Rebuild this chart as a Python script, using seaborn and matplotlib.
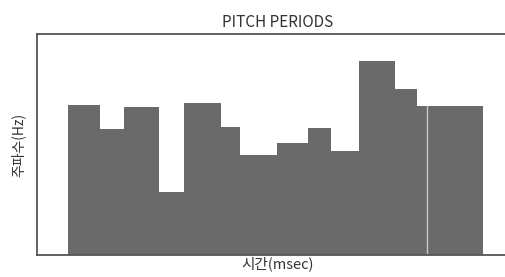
import matplotlib
matplotlib.use('Agg')
import matplotlib.pyplot as plt
import seaborn as sns
import numpy as np

# bin edges along the time axis and bar height per segment
time_edges = [31, 63, 87, 122, 147, 184, 203, 240, 271, 294, 322, 358, 380, 390, 446]
freq = [151, 127, 149, 63, 153, 129, 100, 113, 128, 104, 195, 167, 150, 150]

sns.set_style('white')
plt.rcParams['font.family'] = ['Noto Sans CJK KR', 'DejaVu Sans']

fig = plt.figure(figsize=(5.06, 2.77), dpi=100)
ax = fig.add_axes([37 / 506, 22 / 277, 482 / 506, 221 / 277])

centers = [(a + b) / 2 for a, b in zip(time_edges[:-1], time_edges[1:])]
sns.histplot(x=centers, weights=freq, bins=time_edges, stat='count',
             color='#6a6a6a', alpha=1, linewidth=0, ax=ax)
ax.axvline(time_edges[13], ymax=freq[13] / 222, color='#c8c8c8', lw=1)

ax.set_xlim(0, 482)
ax.set_ylim(0, 222)
ax.set_xticks([])
ax.set_yticks([])
ax.set_title('PITCH PERIODS', fontsize=11, color='#333333', pad=5)
ax.set_xlabel('시간(msec)', fontsize=10.5, color='#333333', labelpad=1)
ax.set_ylabel('주파수(Hz)', fontsize=10, color='#333333', labelpad=8)

for side in ['left', 'top', 'bottom']:
    ax.spines[side].set_color('#555555')
    ax.spines[side].set_linewidth(1.3)
ax.spines['right'].set_visible(False)

fig.savefig('out.png', dpi=100)
